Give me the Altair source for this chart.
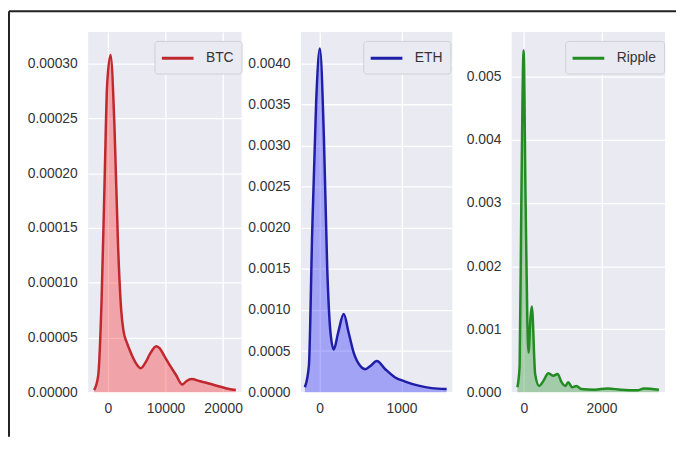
import altair as alt
import pandas as pd

# ---- data (KDE curves) ----
btc_x = [-2400, -1700, -1100, -550, -150, 450, 1150, 1750, 2300, 2700, 3300, 3900, 4700,
         5700, 6500, 7300, 8400, 9000, 9800, 10700, 11800, 12900, 13600, 14500, 16000,
         17500, 19200, 21000, 22200]
btc_y = [0.000002, 0.000015, 0.000085, 0.000200, 0.000280, 0.000308, 0.000240, 0.000135,
         0.000075, 0.000056, 0.000045, 0.000037, 0.000028, 0.000022, 0.000027, 0.000035,
         0.000042, 0.000040, 0.000033, 0.000025, 0.000016, 0.000007, 0.000010, 0.000012,
         0.000010, 0.000008, 0.0000055, 0.000003, 0.000002]

eth_x = [-179, -130, -90, -41, 4, 52, 93, 134, 174, 226, 295, 356, 417, 498, 559, 620, 700,
         802, 923, 1045, 1207, 1368, 1550]
eth_y = [0.00006, 0.00032, 0.00193, 0.00354, 0.00418, 0.00314, 0.00153, 0.00072, 0.00052,
         0.00072, 0.00095, 0.00072, 0.00048, 0.00032, 0.00028, 0.00032, 0.00038, 0.00028,
         0.00018, 0.00013, 0.00008, 0.00005, 0.00004]

xrp_x = [-168, -110, -66, -8, 43, 87, 120, 171, 205, 290, 393, 503, 630, 758, 868, 970,
         1071, 1140, 1242, 1352, 1480, 1821, 2160, 2500, 2926, 3097, 3480]
xrp_y = [0.00008, 0.00042, 0.00304, 0.00542, 0.00304, 0.00120, 0.00063, 0.00120, 0.00136,
         0.00029, 0.00010, 0.00018, 0.00030, 0.00026, 0.00029, 0.00016, 0.00010, 0.00016,
         0.00008, 0.00010, 0.00005, 0.00004, 0.00006, 0.00004, 0.00003, 0.00006, 0.00004]

FONT = "Liberation Sans"
BG = "#EAEAF2"


def panel(name, xs, ys, line_col, fill_col, xdom, ydom, xticks, yticks, yfmt, legx, w,
          frame=False):
    df = pd.DataFrame({"x": xs, "y": ys, "series": name})
    base = alt.Chart(df).encode(
        x=alt.X("x:Q", scale=alt.Scale(domain=xdom, nice=False, zero=False),
                axis=alt.Axis(values=xticks, format="d", title=None)),
        y=alt.Y("y:Q", scale=alt.Scale(domain=ydom, nice=False),
                axis=alt.Axis(values=yticks, format=yfmt, title=None)),
    )
    area = base.mark_area(interpolate="monotone", color=fill_col, opacity=0.3)
    line = base.mark_line(interpolate="monotone", strokeWidth=2.5).encode(
        color=alt.Color("series:N",
                        scale=alt.Scale(domain=[name], range=[line_col]),
                        legend=alt.Legend(title=None, orient="none", legendX=legx, legendY=9,
                                          symbolType="M-2,0L2,0", symbolSize=256,
                                          symbolOffset=6, symbolStrokeWidth=3,
                                          labelOffset=19,
                                          labelFontSize=14, labelFont=FONT,
                                          labelColor="#333333",
                                          fillColor=BG, strokeColor="#CFCFD6",
                                          cornerRadius=3, padding=8))
    )
    layers = [area, line]
    if frame:
        fdf = pd.DataFrame({"k": [0]})
        top = alt.Chart(fdf).mark_rule(color="#222222", strokeWidth=2).encode(
            x=alt.value(-80), x2=alt.value(594), y=alt.value(-21))
        lft = alt.Chart(fdf).mark_rule(color="#222222", strokeWidth=2).encode(
            x=alt.value(-80), y=alt.value(-21), y2=alt.value(409))
        layers += [top, lft]
    return alt.layer(*layers).properties(width=w, height=364)


p1 = panel("BTC", btc_x, btc_y, "#C0282D", "#FF0000", [-3436, 23200], [0, 0.000329],
           [0, 10000, 20000], [0, 0.00005, 0.0001, 0.00015, 0.0002, 0.00025, 0.0003], ".5f", 67,
           155, frame=True)
p2 = panel("ETH", eth_x, eth_y, "#1E1EA8", "#0000FF", [-227, 1620], [0, 0.00438],
           [0, 1000], [0, 0.0005, 0.001, 0.0015, 0.002, 0.0025, 0.003, 0.0035, 0.004], ".4f", 63,
           153)
p3 = panel("Ripple", xrp_x, xrp_y, "#228B22", "#008000", [-314, 3640], [0, 0.00571],
           [0, 2000], [0, 0.001, 0.002, 0.003, 0.004, 0.005], ".3f", 54, 155)

chart = alt.hconcat(p1, p2, p3, spacing=60, bounds="flush").resolve_scale(
    color="independent").resolve_legend(color="independent").properties(
    padding={"left": 0, "top": 0, "right": 0, "bottom": 0},
    background="white",
).configure_view(
    fill=BG, stroke=None
).configure_axis(
    grid=True, gridColor="white", gridWidth=1.3, domain=False, ticks=False,
    labelFont=FONT, labelFontSize=14, labelColor="#333333",
).configure_axisY(
    labelPadding=11
).configure_axisX(
    labelPadding=9
)

chart.save("out.html", embed_options={"renderer": "svg", "actions": False})
